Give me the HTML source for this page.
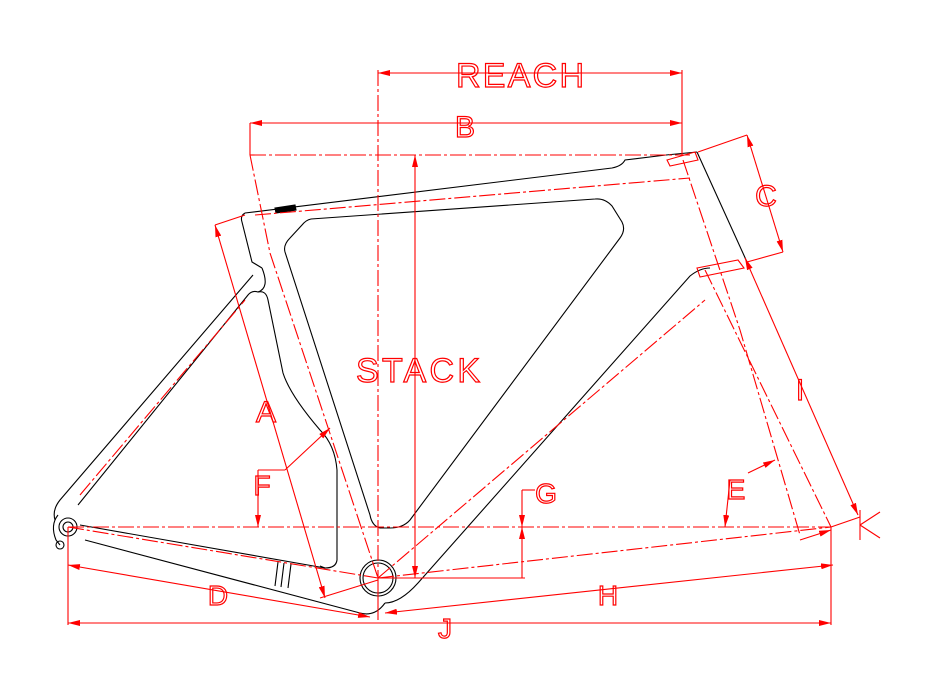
<!DOCTYPE html>
<html><head><style>
html,body{margin:0;padding:0;background:#fff;}
svg{display:block}
text{font-family:"Liberation Sans",sans-serif;fill:none;stroke:#f00;stroke-width:1.2;}
</style></head><body>
<svg width="941" height="689" viewBox="0 0 941 689" xmlns="http://www.w3.org/2000/svg">
<defs>
<marker id="a" viewBox="0 0 12 6" refX="12" refY="3" markerWidth="12" markerHeight="6" markerUnits="userSpaceOnUse" orient="auto-start-reverse"><path d="M0,0 L12,3 L0,6z" fill="#f00"/></marker>
</defs>
<g fill="none" stroke="#000" stroke-width="1.1">
<!-- top tube -->
<path d="M245,213 Q240,216 242,222 L252,262 L262,268"/>
<path d="M245,213 L612,168 Q622,166 625,160 L666,155 L697,152"/>
<path d="M697,152 L747,262"/>
<!-- inner triangle -->
<path d="M311,219 L595,199 Q605,198 612,206 L622,222 Q626,230 620,238 L410,520 Q403,528 390,528 L380,528 Q372,526 370,515 L285,252 Q283,245 290,238 L302,225 Q306,220 311,219"/>
<!-- down tube bottom -->
<path d="M710,268 Q700,268 690,276 L418,583 Q400,603 385,603"/>
<!-- seat tube rear + seatstay -->
<path d="M262,268 Q270,288 258,292 Q252,290 248,295 L78,505"/>
<path d="M253,275 L60,500 Q52,510 55,520"/>
<path d="M258,292 Q266,290 268,300 L283,373 Q290,395 320,430 Q335,445 337,470 L337,560 Q336,568 325,568 L320,566"/>
<!-- chainstay -->
<path d="M80,525 L325,568"/>
<path d="M85,540 L360,613 Q375,617 385,603"/>
<path d="M278,562 L275,586 M284,563 L281,587 M291,564 L288,588"/>
<!-- dropout -->
<circle cx="68" cy="527" r="9"/><circle cx="68" cy="527" r="5"/>
<path d="M58,515 Q50,525 56,540 L60,545"/>
<circle cx="60" cy="545" r="4"/>
<!-- BB -->
<circle cx="378" cy="578" r="18"/><circle cx="378" cy="578" r="15"/>
<path d="M275,208 L295,205 L296,210 L276,213z" fill="#000"/>
</g>
<g fill="none" stroke="#f00" stroke-width="1.1">
<!-- centerlines dash-dot -->
<g stroke-dasharray="16,3,3,3">
<path d="M378,70 L378,578"/>
<path d="M250,155 L690,155"/>
<path d="M68,527 L831,527"/>
<path d="M68,527 L378,578"/>
<path d="M378,578 L831,527"/>
<path d="M270,253 L378,578"/>
<path d="M255,215 L690,178"/>
<path d="M378,578 L705,300"/>
<path d="M250,155 L270,253"/>
<path d="M80,495 L245,300"/>
<path d="M683,160 L740,330 L800,535"/>
<path d="M705,270 L831,527"/>
</g>
<!-- headset cups -->
<path d="M667,160 L695,152 L698,160 L670,166z"/>
<path d="M697,268 L738,260 L744,268 L700,277z"/>
<!-- extension lines -->
<path d="M250,123 L250,155"/>
<path d="M682,70 L682,155"/>
<path d="M698,152 L747,135"/>
<path d="M747,262 L783,252"/>
<path d="M215,225 L245,215"/>
<path d="M68,527 L68,625"/>
<path d="M831,527 L831,625"/>
<path d="M378,578 L378,620"/>
<path d="M378,578 L525,578"/>
<path d="M320,598 L378,580"/>
<path d="M831,527 L860,517"/>
<!-- dimensions -->
<path d="M378,73 L682,73" marker-start="url(#a)" marker-end="url(#a)"/>
<path d="M250,123 L682,123" marker-start="url(#a)" marker-end="url(#a)"/>
<path d="M415,155 L415,578" marker-start="url(#a)" marker-end="url(#a)"/>
<path d="M747,135 L783,252" marker-start="url(#a)" marker-end="url(#a)"/>
<path d="M745,258 L858,515" marker-start="url(#a)" marker-end="url(#a)"/>
<path d="M215,225 L325,598" marker-start="url(#a)" marker-end="url(#a)"/>
<path d="M68,565 L370,617" marker-start="url(#a)" marker-end="url(#a)"/>
<path d="M385,613 L833,565" marker-start="url(#a)" marker-end="url(#a)"/>
<path d="M68,623 L831,623" marker-start="url(#a)" marker-end="url(#a)"/>
<path d="M522,490 L522,527" marker-end="url(#a)"/>
<path d="M522,578 L522,527" marker-end="url(#a)"/>
<path d="M522,490 L535,490"/>
<path d="M285,470 L330,428" marker-end="url(#a)"/>
<path d="M258,470 L285,470 M258,470 L258,527" marker-end="url(#a)"/>
<path d="M748,473 L775,460" marker-end="url(#a)"/>
<path d="M730,480 L725,527" marker-end="url(#a)"/>
<path d="M800,540 L831,530" marker-end="url(#a)"/>
<path d="M860,510 L860,540 M860,525 L880,512 M860,525 L880,538"/>
</g>
<text x="520" y="87" font-size="34" text-anchor="middle" textLength="128">REACH</text>
<text x="465" y="137" font-size="30" text-anchor="middle">B</text>
<text x="418" y="382" font-size="34" text-anchor="middle" textLength="124">STACK</text>
<text x="766" y="206" font-size="30" text-anchor="middle">C</text>
<text x="800" y="400" font-size="30" text-anchor="middle">I</text>
<text x="266" y="422" font-size="30" text-anchor="middle">A</text>
<text x="262" y="495" font-size="28" text-anchor="middle">F</text>
<text x="546" y="503" font-size="28" text-anchor="middle">G</text>
<text x="736" y="499" font-size="28" text-anchor="middle">E</text>
<text x="218" y="605" font-size="28" text-anchor="middle">D</text>
<text x="608" y="605" font-size="28" text-anchor="middle">H</text>
<text x="445" y="638" font-size="28" text-anchor="middle">J</text>
</svg>
</body></html>
